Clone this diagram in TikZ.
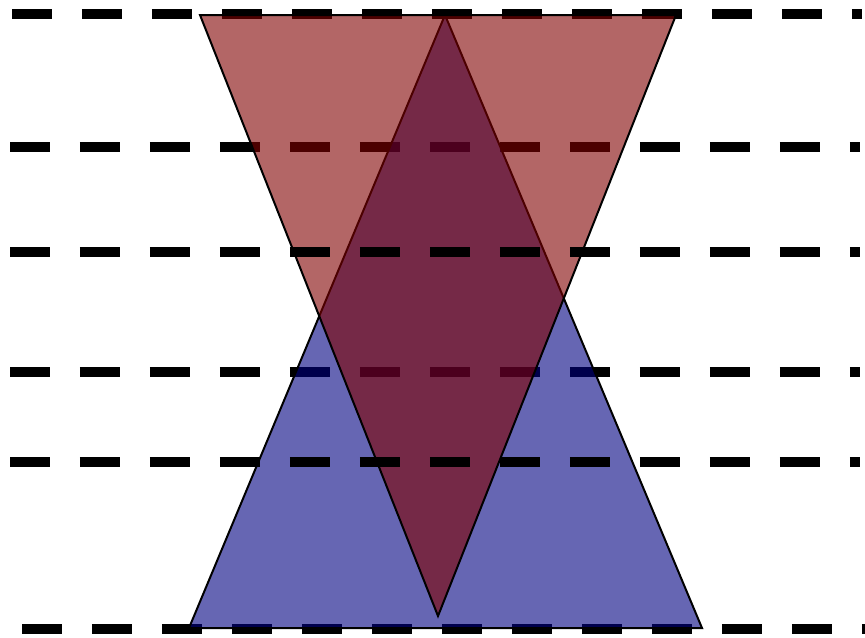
\documentclass[tikz,border=0pt]{standalone}
\usepackage{xcolor}
\usepackage{tikz}
\definecolor{navyblue}{RGB}{0,0,128}
\definecolor{darkred}{RGB}{128,0,0}

\begin{document}
\begin{tikzpicture}[x=0.02cm,y=-0.02cm,
    guide/.style={line width=0.2cm,dash pattern=on 0.8cm off 0.6cm},
    tri/.style={draw=black,line width=0.04cm,fill opacity=0.6}]
    \useasboundingbox (0,0) rectangle (865,637);
    \clip (0,0) rectangle (865,637);
    % corners of the two triangles
    \coordinate (bl) at (189,628);
    \coordinate (br) at (702,628);
    \coordinate (bt) at (445,15);
    \coordinate (rl) at (200,15);
    \coordinate (rr) at (676,15);
    \coordinate (rb) at (438,616);
    % lines behind
    \draw [guide] (12,14) -- (862,14);
    \draw [guide] (10,147) -- (860,147);
    \draw [guide] (10,372) -- (860,372);
    \draw [guide] (22,629) -- (872,629);
    % triangles
    \draw [tri,fill=navyblue] (bl) -- (br) -- (bt) -- cycle;
    \draw [tri,fill=darkred] (rl) -- (rr) -- (rb) -- cycle;
    % lines in front
    \draw [guide] (10,252) -- (860,252);
    \draw [guide] (10,462) -- (860,462);
\end{tikzpicture}
\end{document}
